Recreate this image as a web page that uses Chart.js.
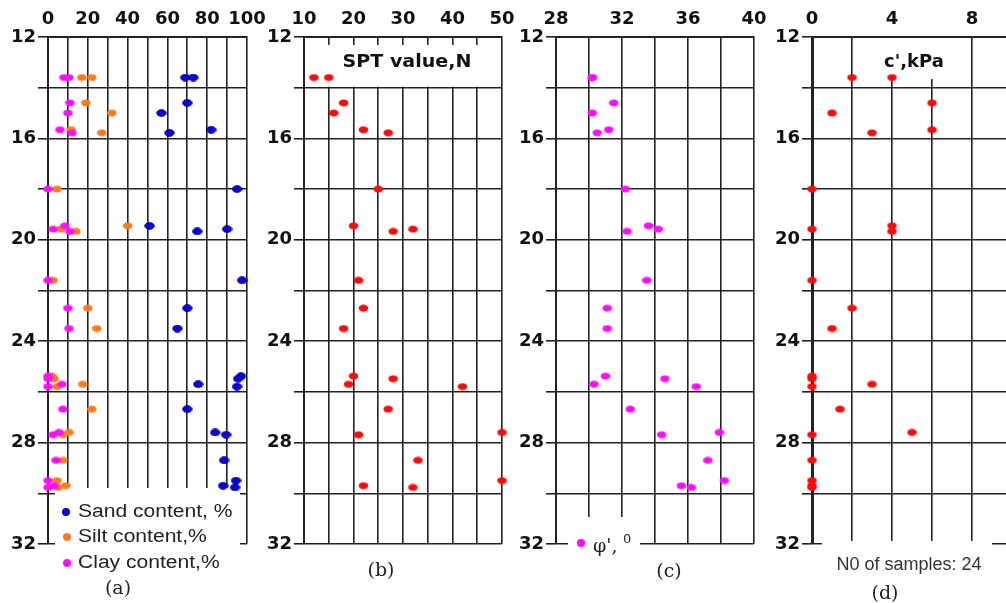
<!DOCTYPE html>
<html>
<head>
<meta charset="utf-8">
<script src="https://cdn.jsdelivr.net/npm/chart.js@4.4.1/dist/chart.umd.min.js"></script>
<style>
  html, body { margin: 0; padding: 0; background: #fff; overflow: hidden; }
  #wrap { position: relative; width: 1006px; height: 603px; overflow: hidden; }
  canvas { position: absolute; top: 0; }
</style>
</head>
<body>
<div id="wrap">
  <canvas id="panelA" width="290" height="603" style="left:0px"></canvas>
  <canvas id="panelB" width="290" height="603" style="left:256px"></canvas>
  <canvas id="panelC" width="290" height="603" style="left:508px"></canvas>
  <canvas id="panelD" width="260" height="603" style="left:764px"></canvas>
</div>
<script>
// depth of the 24 samples (m), same order in every array below
const depths = [13.6, 13.6, 14.6, 15.0, 15.66, 15.78, 18.0, 19.45, 19.58, 19.67, 21.6, 22.7,
                23.5, 25.38, 25.48, 25.7, 25.79, 26.68, 27.6, 27.69, 28.7, 29.5, 29.7, 29.77];

// (a) grain size, %
const sandContent = [69, 73, 70, 57, 82, 61, 95, 51, 90, 75, 97.5, 70, 65, 97, 95.5, 75.5, 95, 70, 84, 89.5, 88.5, 94.5, 88, 94];
const siltContent = [22, 17, 19, 32, 11.5, 27, 4.5, 40, 6.5, 14, 2.5, 20, 24.5, 2, 3, 17.5, 4.5, 22, 10.5, 7.5, 7.5, 4.5, 9, 5];
const clayContent = [8, 10.5, 11, 10, 6, 12, 0, 8.5, 2.5, 11, 0, 10, 10.5, 0, 0, 7, 0, 7.5, 5.5, 2.5, 4, 0, 3, 0];

// (b) SPT blow count
const sptN = [12, 15, 18, 16, 22, 27, 25, 20, 32, 28, 21, 22, 18, 20, 28, 19, 42, 27, 50, 21, 33, 50, 22, 32];

// (c) friction angle, degrees
const phiDeg = [30.2, 30.2, 31.5, 30.2, 31.2, 30.5, 32.2, 33.6, 34.2, 32.3, 33.5, 31.1,
                31.1, 31.0, 34.6, 30.3, 36.5, 32.5, 37.9, 34.4, 37.2, 38.2, 35.6, 36.2];

// (d) cohesion, kPa
const cohesion = [2, 4, 6, 1, 6, 3, 0, 4, 0, 4, 0, 2, 1, 0, 0, 3, 0, 1.4, 5, 0, 0, 0, 0, 0];

// depth axis ticks
const depthMin = 12, depthMax = 32;

const gridColor = '#222';
const tickFont = { family: 'DejaVu Sans', weight: 'bold', size: 18 };

function dot(fill, stroke) {
    const c = document.createElement('canvas');
    c.width = 11; c.height = 8;
    const g = c.getContext('2d');
    g.beginPath();
    g.ellipse(5.5, 4, 4.8, 3.4, 0, 0, Math.PI * 2);
    g.fillStyle = fill;
    g.fill();
    if (stroke) { g.lineWidth = 0.8; g.strokeStyle = stroke; g.stroke(); }
    return c;
}

function series(values, marker, order) {
    return {
        data: values.map((v, i) => ({ x: v, y: depths[i] })),
        pointStyle: marker,
        pointRadius: 5,
        clip: false,
        order: order || 0
    };
}

// text with optional horizontal stretch (the source figure is a bit wide)
function txt(ctx, s, x, y, font, align, sx, color) {
    ctx.save();
    ctx.font = font;
    ctx.fillStyle = color || '#111';
    ctx.textAlign = align || 'left';
    ctx.textBaseline = 'middle';
    ctx.translate(x, y);
    ctx.scale(sx || 1, 1);
    ctx.fillText(s, 0, 0);
    ctx.restore();
}

function circle(ctx, x, y, r, color) {
    ctx.beginPath();
    ctx.arc(x, y, r, 0, Math.PI * 2);
    ctx.fillStyle = color;
    ctx.fill();
}

function buildPanel(id, cfg) {
    const ctx = document.getElementById(id).getContext('2d');
    return new Chart(ctx, {
        type: 'scatter',
        data: { datasets: cfg.datasets },
        options: {
            responsive: false,
            animation: false,
            devicePixelRatio: 1,
            layout: { padding: { top: 0, left: 0, right: cfg.padRight, bottom: 59 } },
            plugins: { legend: { display: false }, tooltip: { enabled: false } },
            scales: {
                x: {
                    type: 'linear',
                    position: 'top',
                    min: cfg.xMin,
                    max: cfg.xMax,
                    afterFit: s => { s.height = 37; },
                    ticks: {
                        stepSize: cfg.xStep,
                        autoSkip: false,
                        maxRotation: 0,
                        padding: 7,
                        color: '#111',
                        font: tickFont,
                        callback: v => {
                            const k = (v - cfg.xMin) / cfg.xLabelStep;
                            return Math.abs(k - Math.round(k)) < 1e-6 && v <= cfg.xLabelMax ? v : '';
                        }
                    },
                    grid: { color: gridColor, lineWidth: 1.6, drawTicks: false },
                    border: { color: gridColor, width: 2 }
                },
                y: {
                    type: 'linear',
                    reverse: true,
                    min: depthMin,
                    max: depthMax,
                    afterFit: s => { s.width = 48; },
                    ticks: {
                        stepSize: 2,
                        autoSkip: false,
                        padding: 2,
                        color: '#111',
                        font: tickFont,
                        callback: v => (v % 4 === 0 ? v : '')
                    },
                    grid: { color: gridColor, lineWidth: 1.6, tickLength: 10 },
                    border: { color: gridColor, width: cfg.yBorder || 2 }
                }
            }
        },
        plugins: [cfg.decor]
    });
}

const sandDot = dot('#0505e0', '#000070');
const siltDot = dot('#ff7b1c');
const clayDot = dot('#ff10ff');
const redDot = dot('#ff0a0a');

// (a)
buildPanel('panelA', {
    xMin: 0, xMax: 100, xStep: 10, xLabelStep: 20, xLabelMax: 100, padRight: 43,
    datasets: [series(sandContent, sandDot, 2), series(siltContent, siltDot, 1), series(clayContent, clayDot, 0)],
    decor: {
        id: 'decorA',
        beforeDatasetsDraw(chart) {
            const c = chart.ctx;
            c.fillStyle = '#fff';
            c.fillRect(55, 488, 185, 102);
        },
        afterDraw(chart) {
            const c = chart.ctx;
            const f = '18px "Liberation Sans"';
            circle(c, 66, 512, 4, '#0505d0');
            circle(c, 67, 537, 4, '#ff7b1c');
            circle(c, 67, 563, 4, '#ff10ff');
            txt(c, 'Sand content, %', 78, 512, f, 'left', 1.17, '#222');
            txt(c, 'Silt content,%', 78, 537, f, 'left', 1.17, '#222');
            txt(c, 'Clay content,%', 78, 563, f, 'left', 1.17, '#222');
            txt(c, '(a)', 118, 589, '19px "DejaVu Serif"', 'center', 1, '#222');
        }
    }
});

// (b)
buildPanel('panelB', {
    xMin: 10, xMax: 50, xStep: 5, xLabelStep: 10, xLabelMax: 50, padRight: 44,
    datasets: [series(sptN, redDot)],
    decor: {
        id: 'decorB',
        beforeDatasetsDraw(chart) {
            const c = chart.ctx, a = chart.chartArea;
            const y14 = chart.scales.y.getPixelForValue(14);
            c.fillStyle = '#fff';
            c.fillRect(a.left + 1.5, a.top + 8, a.right - a.left - 3, y14 - a.top - 9);
            txt(c, 'SPT value,N', 407 - 256, 62, 'bold 18px "DejaVu Sans"', 'center', 1.06, '#111');
        },
        afterDraw(chart) {
            txt(chart.ctx, '(b)', 381 - 256, 571, '19px "DejaVu Serif"', 'center', 1, '#222');
        }
    }
});

// (c)
buildPanel('panelC', {
    xMin: 28, xMax: 40, xStep: 2, xLabelStep: 4, xLabelMax: 40, padRight: 44,
    datasets: [series(phiDeg, clayDot)],
    decor: {
        id: 'decorC',
        beforeDatasetsDraw(chart) {
            const c = chart.ctx;
            c.fillStyle = '#fff';
            c.fillRect(568 - 508, 517, 72, 43);
        },
        afterDraw(chart) {
            const c = chart.ctx;
            circle(c, 581 - 508, 543, 4.2, '#ff10ff');
            txt(c, "φ',", 593 - 508, 547, '19px "DejaVu Serif"', 'left', 1, '#222');
            txt(c, '0', 623 - 508, 540, '13px "DejaVu Sans"', 'left', 1, '#222');
            txt(c, '(c)', 669 - 508, 572, '19px "DejaVu Serif"', 'center', 1, '#222');
        }
    }
});

// (d)
buildPanel('panelD', {
    xMin: 0, xMax: 10, xStep: 2, xLabelStep: 4, xLabelMax: 8, padRight: 12, yBorder: 3,
    datasets: [series(cohesion, redDot)],
    decor: {
        id: 'decorD',
        beforeDatasetsDraw(chart) {
            const c = chart.ctx;
            c.fillStyle = '#fff';
            c.fillRect(860 - 764, 38, 100, 41);
            c.fillRect(822 - 764, 541, 170, 44);
            txt(c, "c',kPa", 914 - 764, 62, 'bold 18px "DejaVu Sans"', 'center', 1, '#111');
        },
        afterDraw(chart) {
            const c = chart.ctx;
            txt(c, 'N0 of samples: 24', 909 - 764, 565, '18px "Liberation Sans"', 'center', 1, '#333');
            txt(c, '(d)', 885 - 764, 594, '19px "DejaVu Serif"', 'center', 1, '#222');
        }
    }
});
</script>
</body>
</html>
